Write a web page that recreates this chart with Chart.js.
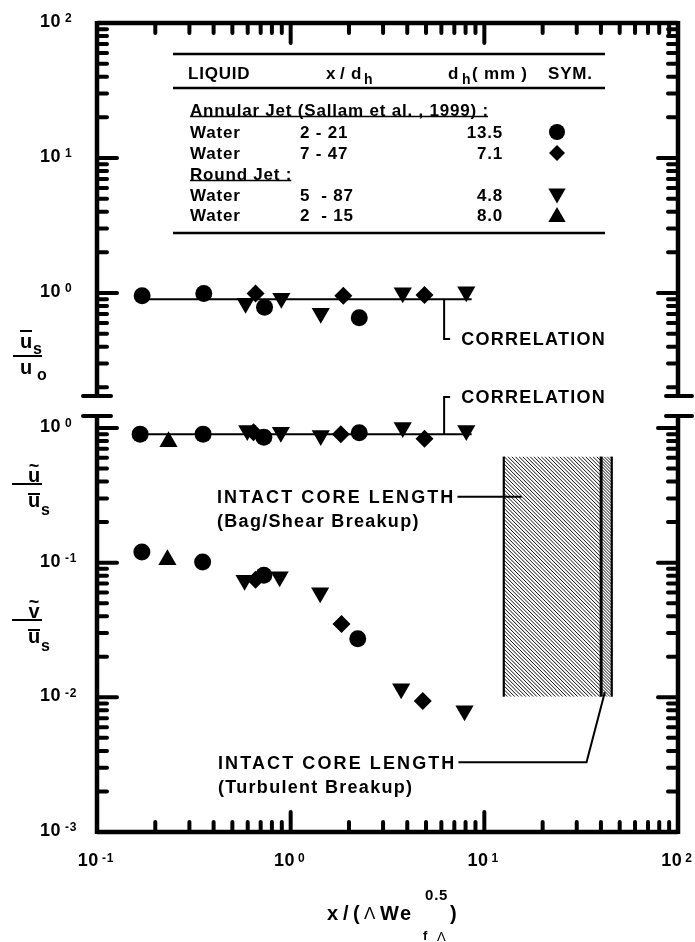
<!DOCTYPE html>
<html><head><meta charset="utf-8">
<script src="https://cdn.jsdelivr.net/npm/chart.js@4.4.1/dist/chart.umd.min.js"></script>
<style>
html,body{margin:0;padding:0;background:#fff;}
#wrap{position:relative;width:695px;height:942px;overflow:hidden;background:#fff;}
canvas{position:absolute;left:0;top:0;}
</style></head><body>
<div id="wrap"><canvas id="cBot" width="695" height="942"></canvas><canvas id="cTop" width="695" height="942"></canvas></div>
<script>
// ---------- axes ----------
const xTickValues = [0.1, 1, 10, 100];
const xTickExps   = ['-1', '0', '1', '2'];
const topTickValues = [1, 10, 100];
const topTickExps   = ['0', '1', '2'];
const botTickValues = [0.001, 0.01, 0.1, 1];
const botTickExps   = ['-3', '-2', '-1', '0'];

// ---------- upper panel : ū_s / u_o ----------
const usCircleX  = [0.171, 0.356, 0.733, 2.26];
const usCircleY  = [0.955, 0.99, 0.783, 0.656];
const usDiamondX = [0.659, 1.87, 4.91];
const usDiamondY = [0.99, 0.955, 0.966];
const usTriDownX = [0.585, 0.895, 1.43, 3.79, 8.07];
const usTriDownY = [0.839, 0.914, 0.707, 1.005, 1.022];
const usCorrX = [0.17, 8.6];
const usCorrY = [0.90, 0.90];

// ---------- lower panel : ũ / ū_s ----------
const uCircleX  = [0.167, 0.353, 0.727, 2.26];
const uCircleY  = [0.90, 0.90, 0.855, 0.92];
const uDiamondX = [0.643, 1.815, 4.91];
const uDiamondY = [0.93, 0.90, 0.83];
const uTriDownX = [0.597, 0.89, 1.43, 3.79, 8.07];
const uTriDownY = [0.956, 0.93, 0.878, 1.01, 0.956];
const uTriUpX = [0.234];
const uTriUpY = [0.79];
const uCorrX = [0.17, 8.6];
const uCorrY = [0.90, 0.90];

// ---------- lower panel : ṽ / ū_s ----------
const vCircleX  = [0.1705, 0.351, 0.727, 2.22];
const vCircleY  = [0.120, 0.101, 0.0805, 0.0272];
const vDiamondX = [0.659, 1.83, 4.81];
const vDiamondY = [0.0748, 0.0351, 0.0094];
const vTriDownX = [0.578, 0.877, 1.42, 3.72, 7.9];
const vTriDownY = [0.0740, 0.0785, 0.0597, 0.0116, 0.00794];
const vTriUpX = [0.231];
const vTriUpY = [0.105];

// ---------- intact core length bands ----------
const bagShearX  = [12.6, 40.1];
const turbulentX = [40.1, 45.5];
const coreBandY  = [0.0101, 0.613];

// ---------- table ----------
const tableRows = [
  ['Water', '2 - 21', '13.5', 'circle'],
  ['Water', '7 - 47', '7.1', 'diamond'],
  ['Water', '5  - 87', '4.8', 'down'],
  ['Water', '2  - 15', '8.0', 'up']
];

// ================= helpers =================
const FAM = '"Liberation Sans", Arial, Helvetica, sans-serif';
function T(ctx, s, x, y, o = {}) {
  const size = o.size || 17, weight = o.weight || 'bold', ls = (o.ls === undefined ? 1.0 : o.ls), align = o.align || 'left';
  ctx.save();
  ctx.font = `${weight} ${size}px ${FAM}`;
  if ('letterSpacing' in ctx) ctx.letterSpacing = ls + 'px';
  ctx.fillStyle = '#000'; ctx.textBaseline = 'alphabetic'; ctx.textAlign = 'left';
  const w = ctx.measureText(s).width;
  const x0 = align === 'left' ? x : align === 'right' ? x - w : x - w / 2;
  const base = y + (o.lower ? 0.519 : 0.716) * size / 2;
  ctx.fillText(s, x0, base);
  ctx.restore();
  return { left: x0, right: x0 + w };
}
function L(ctx, pts, lw = 2) {
  ctx.save(); ctx.strokeStyle = '#000'; ctx.lineWidth = lw; ctx.lineCap = 'butt'; ctx.lineJoin = 'miter';
  ctx.beginPath(); ctx.moveTo(pts[0][0], pts[0][1]);
  for (let i = 1; i < pts.length; i++) ctx.lineTo(pts[i][0], pts[i][1]);
  ctx.stroke(); ctx.restore();
}
function mark(ctx, style, x, y, r) {
  ctx.save(); ctx.fillStyle = '#000'; ctx.beginPath();
  if (style === 'circle') ctx.arc(x, y, r, 0, 2 * Math.PI);
  else if (style === 'diamond') { ctx.moveTo(x, y - r); ctx.lineTo(x + r, y); ctx.lineTo(x, y + r); ctx.lineTo(x - r, y); }
  else if (style === 'down') { ctx.moveTo(x, y + r); ctx.lineTo(x - r * 0.866, y - r / 2); ctx.lineTo(x + r * 0.866, y - r / 2); }
  else { ctx.moveTo(x, y - r); ctx.lineTo(x + r * 0.866, y + r / 2); ctx.lineTo(x - r * 0.866, y + r / 2); }
  ctx.closePath(); ctx.fill(); ctx.restore();
}
const pts = (xs, ys) => xs.map((x, i) => ({ x, y: ys[i] }));
function markerSet(label, xs, ys, style, radius, rotation = 0) {
  return { label, data: pts(xs, ys), pointStyle: style, pointRadius: radius, pointHoverRadius: radius,
    pointRotation: rotation, backgroundColor: '#000', borderColor: '#000', borderWidth: 0, showLine: false, order: 1 };
}
function lineSet(label, xs, ys) {
  return { label, data: pts(xs, ys), showLine: true, borderColor: '#000', borderWidth: 2, pointRadius: 0, order: 5 };
}

// frame + inward ticks
function frame(chart, isTop) {
  const { ctx, chartArea: a, scales: { x, y } } = chart;
  ctx.save(); ctx.strokeStyle = '#000';
  ctx.lineWidth = 4.5; ctx.lineCap = 'butt';
  ctx.beginPath();
  ctx.moveTo(a.left, a.top - (isTop ? 2 : 0)); ctx.lineTo(a.left, a.bottom + (isTop ? 0 : 2));
  ctx.moveTo(a.right, a.top - (isTop ? 2 : 0)); ctx.lineTo(a.right, a.bottom + (isTop ? 0 : 2));
  if (isTop) { ctx.moveTo(a.left, a.top); ctx.lineTo(a.right, a.top); }
  else { ctx.moveTo(a.left, a.bottom); ctx.lineTo(a.right, a.bottom); }
  ctx.stroke();
  ctx.lineWidth = 4; ctx.lineCap = 'round';
  const by = isTop ? a.bottom : a.top;
  ctx.beginPath();
  ctx.moveTo(a.left - 14, by); ctx.lineTo(a.left + 14, by);
  ctx.moveTo(a.right - 12, by); ctx.lineTo(a.right + 14, by);
  ctx.stroke();
  ctx.lineWidth = 4; ctx.beginPath();
  const yMin = y.min, yMax = y.max;
  for (let d = Math.floor(Math.log10(yMin)); d <= Math.ceil(Math.log10(yMax)); d++) {
    for (let m = 1; m <= 9; m++) {
      const v = m * Math.pow(10, d);
      if (v < yMin || v > yMax) continue;
      const p = y.getPixelForValue(v);
      if (p < a.top + 2 || p > a.bottom - 2) continue;
      const len = m === 1 ? 20 : 10;
      ctx.moveTo(a.left, p); ctx.lineTo(a.left + len, p);
      ctx.moveTo(a.right, p); ctx.lineTo(a.right - len, p);
    }
  }
  for (let d = -1; d <= 2; d++) {
    for (let m = 1; m <= 9; m++) {
      const v = m * Math.pow(10, d);
      if (v < x.min || v > x.max) continue;
      const p = x.getPixelForValue(v);
      if (p < a.left + 2 || p > a.right - 2) continue;
      const len = m === 1 ? 20 : 10;
      if (isTop) { ctx.moveTo(p, a.top); ctx.lineTo(p, a.top + len); }
      else { ctx.moveTo(p, a.bottom); ctx.lineTo(p, a.bottom - len); }
    }
  }
  ctx.stroke(); ctx.restore();
}
function yTickLabels(chart, vals, exps) {
  const { ctx, chartArea: a, scales: { y } } = chart;
  vals.forEach((v, i) => {
    const p = y.getPixelForValue(v) - 2.5;
    T(ctx, '10', a.left - 36, p, { size: 18, align: 'right', ls: 0.5 });
    T(ctx, exps[i], a.left - 32, p - 2.3, { size: 12, ls: 0.8 });
  });
}
function xTickLabels(chart) {
  const { ctx, scales: { x } } = chart;
  ctx.save(); ctx.font = `bold 18px ${FAM}`; if ('letterSpacing' in ctx) ctx.letterSpacing = '0.5px';
  const w1 = ctx.measureText('10').width; ctx.restore();
  xTickValues.forEach((v, i) => {
    ctx.save(); ctx.font = `bold 12px ${FAM}`; if ('letterSpacing' in ctx) ctx.letterSpacing = '0.8px';
    const w2 = ctx.measureText(xTickExps[i]).width; ctx.restore();
    const c = x.getPixelForValue(v) - 1;
    const left = c - (w1 + 3 + w2) / 2;
    T(ctx, '10', left, 859.5, { size: 18, ls: 0.5 });
    T(ctx, xTickExps[i], left + w1 + 3, 857.5, { size: 12, ls: 0.8 });
  });
}

// ================= charts =================
const X_MIN = 0.1, X_MAX = 100;
function scales(ymin, ymax) {
  return { x: { type: 'logarithmic', min: X_MIN, max: X_MAX, display: false },
           y: { type: 'logarithmic', min: ymin, max: ymax, display: false } };
}
const baseOpts = { responsive: false, animation: false, events: [], devicePixelRatio: 1,
  plugins: { legend: { display: false }, tooltip: { enabled: false } } };
const TS = { size: 17, ls: 0.8 };     // table text style
const AS = { size: 18, ls: 1.3 };     // annotation text style

// ---- upper panel ----
const topPlugin = {
  id: 'topDeco',
  afterDraw(chart) {
    const { ctx, scales: { x, y } } = chart;
    frame(chart, true);
    yTickLabels(chart, topTickValues, topTickExps);
    // y title ū_s / u_o
    T(ctx, 'u', 26, 342.5, { size: 20, align: 'center', lower: true, ls: 0 });
    L(ctx, [[20, 331], [32, 331]], 2);
    T(ctx, 's', 33, 350, { size: 16, lower: true, ls: 0 });
    L(ctx, [[13, 356], [42, 356]], 2);
    T(ctx, 'u', 26, 369, { size: 20, align: 'center', lower: true, ls: 0 });
    T(ctx, 'o', 37, 376, { size: 16, lower: true, ls: 0 });
    // correlation leader
    const cx = x.getPixelForValue(6.2), cy0 = y.getPixelForValue(usCorrY[0]), cy1 = y.getPixelForValue(0.456);
    L(ctx, [[cx, cy0], [cx, cy1], [cx + 6, cy1]], 2);
    T(ctx, 'CORRELATION', cx + 17, cy1, AS);
    // table
    L(ctx, [[173, 54], [605, 54]], 2.5);
    L(ctx, [[173, 88], [605, 88]], 2.5);
    L(ctx, [[173, 233], [605, 233]], 2.5);
    T(ctx, 'LIQUID', 188, 73, TS);
    T(ctx, 'x', 326, 73, TS);
    T(ctx, '/', 340, 73, TS);
    T(ctx, 'd', 351, 73, TS);
    T(ctx, 'h', 364, 80, { size: 14, lower: true, ls: 0 });
    T(ctx, 'd', 448, 73, TS);
    T(ctx, 'h', 462, 80, { size: 14, lower: true, ls: 0 });
    T(ctx, '( mm )', 472, 73, TS);
    T(ctx, 'SYM.', 548, 73, TS);
    const r1 = T(ctx, 'Annular Jet (Sallam et al. , 1999) :', 190, 110, TS);
    L(ctx, [[190, 116.5], [r1.right - 1, 116.5]], 1.5);
    const r2 = T(ctx, 'Round Jet :', 190, 174, TS);
    L(ctx, [[190, 180.5], [r2.right - 1, 180.5]], 1.5);
    const rowY = [132, 153, 195, 215];
    tableRows.forEach((r, i) => {
      T(ctx, r[0], 190, rowY[i], TS);
      T(ctx, r[1], 300, rowY[i], TS);
      T(ctx, r[2], 503, rowY[i], Object.assign({}, TS, { align: 'right' }));
      mark(ctx, r[3], 557, rowY[i] + (r[3] === 'down' ? -1.5 : r[3] === 'up' ? 2 : 0), r[3] === 'circle' ? 8 : r[3] === 'diamond' ? 8 : 10);
    });
  }
};
new Chart(document.getElementById('cTop'), {
  type: 'scatter',
  data: { datasets: [
    markerSet('Annular jet, d_h 13.5 mm', usCircleX, usCircleY, 'circle', 8.5),
    markerSet('Annular jet, d_h 7.1 mm', usDiamondX, usDiamondY, 'rectRot', 9),
    markerSet('Round jet, d_h 4.8 mm', usTriDownX, usTriDownY, 'triangle', 10.5, 180),
    lineSet('Correlation', usCorrX, usCorrY)
  ] },
  options: Object.assign({}, baseOpts, {
    layout: { padding: { left: 97, right: 17, top: 23, bottom: 942 - 396 } },
    scales: scales(0.1726, 100)
  }),
  plugins: [topPlugin]
});

// ---- lower panel ----
const botPlugin = {
  id: 'botDeco',
  beforeDatasetsDraw(chart) {
    const { ctx, scales: { x, y } } = chart;
    const yt = y.getPixelForValue(coreBandY[1]), yb = y.getPixelForValue(coreBandY[0]);
    const hatch = (x0, x1, sp) => {
      ctx.save(); ctx.beginPath(); ctx.rect(x0, yt, x1 - x0, yb - yt); ctx.clip();
      ctx.strokeStyle = '#111'; ctx.lineWidth = 1.0; ctx.beginPath();
      const h = yb - yt;
      for (let s = x0 - h; s < x1; s += sp) { ctx.moveTo(s, yt); ctx.lineTo(s + h, yb); }
      ctx.stroke(); ctx.restore();
    };
    const b0 = x.getPixelForValue(bagShearX[0]), b1 = x.getPixelForValue(bagShearX[1]);
    const t1 = x.getPixelForValue(turbulentX[1]);
    hatch(b0, b1, 3.7);
    hatch(b1, t1, 3.0);
    L(ctx, [[b0, yt], [b0, yb]], 2.2);
    L(ctx, [[b1, yt], [b1, yb]], 3);
    L(ctx, [[t1, yt], [t1, yb]], 2.2);
  },
  afterDraw(chart) {
    const { ctx, scales: { x, y } } = chart;
    frame(chart, false);
    yTickLabels(chart, botTickValues, botTickExps);
    xTickLabels(chart);
    // y title ũ / ū_s
    T(ctx, 'u', 34, 477, { size: 20, align: 'center', lower: true, ls: 0 });
    T(ctx, '~', 34, 466, { size: 18, align: 'center', ls: 0 });
    L(ctx, [[12, 484], [42, 484]], 2);
    T(ctx, 'u', 34, 502, { size: 20, align: 'center', lower: true, ls: 0 });
    L(ctx, [[28, 494], [40, 494]], 2);
    T(ctx, 's', 41, 511, { size: 16, lower: true, ls: 0 });
    // y title ṽ / ū_s
    T(ctx, 'v', 34, 613, { size: 20, align: 'center', lower: true, ls: 0 });
    T(ctx, '~', 34, 602, { size: 18, align: 'center', ls: 0 });
    L(ctx, [[12, 620], [42, 620]], 2);
    T(ctx, 'u', 34, 638, { size: 20, align: 'center', lower: true, ls: 0 });
    L(ctx, [[28, 630], [40, 630]], 2);
    T(ctx, 's', 41, 647, { size: 16, lower: true, ls: 0 });
    // x title
    T(ctx, 'x', 327, 913, { size: 20, ls: 0 });
    T(ctx, '/', 343, 913, { size: 20, ls: 0 });
    T(ctx, '(', 353, 913, { size: 20, ls: 0 });
    T(ctx, '\u039B', 364, 913, { size: 17, weight: 'normal', ls: 0 });
    T(ctx, 'We', 380, 913, { size: 20, ls: 1.5 });
    T(ctx, '0.5', 425, 895, { size: 15, ls: 0.8 });
    T(ctx, ')', 450, 913, { size: 20, ls: 0 });
    T(ctx, 'f', 423, 935, { size: 13, ls: 0 });
    T(ctx, '\u039B', 437, 936, { size: 13, weight: 'normal', ls: 0 });
    // correlation leader (lower)
    const cx = x.getPixelForValue(6.2), cy0 = y.getPixelForValue(uCorrY[0]), cy1 = y.getPixelForValue(1.70);
    L(ctx, [[cx, cy0], [cx, cy1], [cx + 6, cy1]], 2);
    T(ctx, 'CORRELATION', cx + 17, cy1, AS);
    // intact core length: bag/shear
    const ly = y.getPixelForValue(0.308);
    const r1 = T(ctx, 'INTACT CORE LENGTH', 217, ly, { size: 18, ls: 2.1 });
    T(ctx, '(Bag/Shear Breakup)', 217, ly + 24, AS);
    L(ctx, [[r1.right + 2, ly], [x.getPixelForValue(15.6), ly]], 2);
    // intact core length: turbulent
    const ty = y.getPixelForValue(0.0033);
    const r2 = T(ctx, 'INTACT CORE LENGTH', 218, ty, { size: 18, ls: 2.1 });
    T(ctx, '(Turbulent Breakup)', 218, ty + 24, AS);
    L(ctx, [[r2.right + 2, ty], [x.getPixelForValue(33.7), ty], [x.getPixelForValue(41.9), y.getPixelForValue(0.0109)]], 2);
  }
};
new Chart(document.getElementById('cBot'), {
  type: 'scatter',
  data: { datasets: [
    markerSet('ũ: annular jet 13.5 mm', uCircleX, uCircleY, 'circle', 8.5),
    markerSet('ũ: annular jet 7.1 mm', uDiamondX, uDiamondY, 'rectRot', 9),
    markerSet('ũ: round jet 4.8 mm', uTriDownX, uTriDownY, 'triangle', 10.5, 180),
    markerSet('ũ: round jet 8.0 mm', uTriUpX, uTriUpY, 'triangle', 10.5),
    markerSet('ṽ: annular jet 13.5 mm', vCircleX, vCircleY, 'circle', 8.5),
    markerSet('ṽ: annular jet 7.1 mm', vDiamondX, vDiamondY, 'rectRot', 9),
    markerSet('ṽ: round jet 4.8 mm', vTriDownX, vTriDownY, 'triangle', 10.5, 180),
    markerSet('ṽ: round jet 8.0 mm', vTriUpX, vTriUpY, 'triangle', 10.5),
    lineSet('Correlation', uCorrX, uCorrY)
  ] },
  options: Object.assign({}, baseOpts, {
    layout: { padding: { left: 97, right: 17, top: 416, bottom: 942 - 832 } },
    scales: scales(0.001, 1.227)
  }),
  plugins: [botPlugin]
});
</script>
</body></html>
